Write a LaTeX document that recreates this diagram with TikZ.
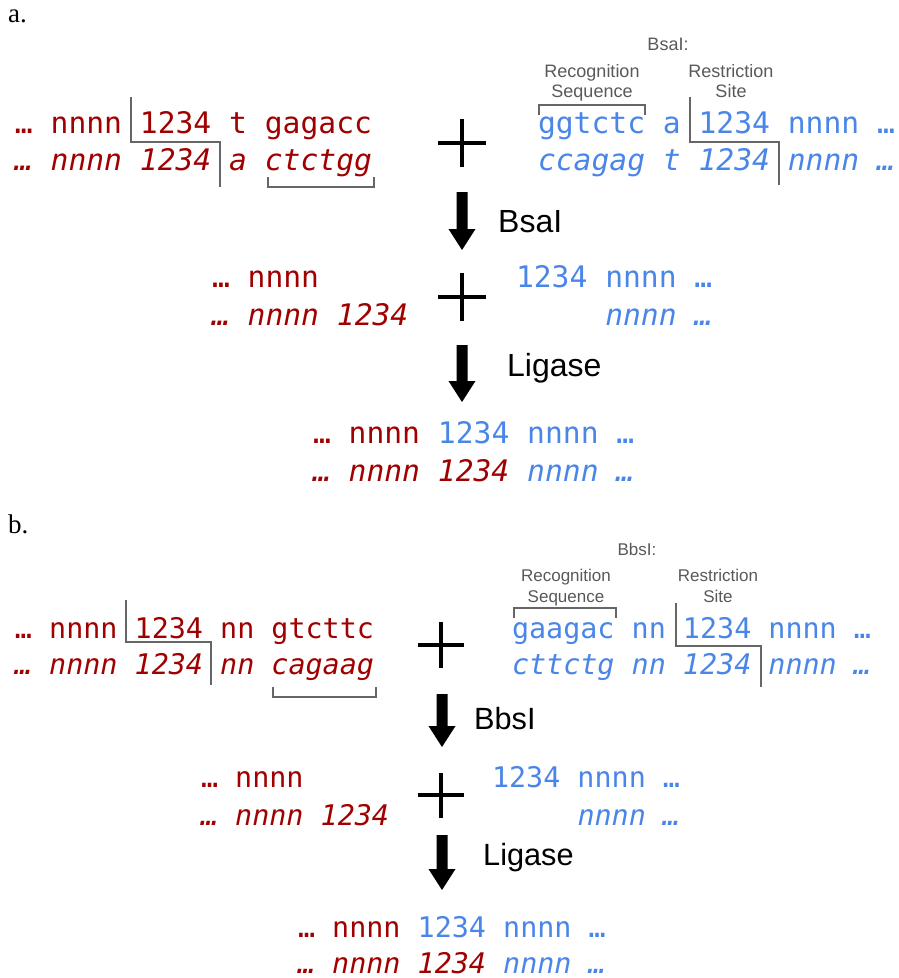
\documentclass[tikz,border=0pt]{standalone}
\usepackage{fontspec}
\setmainfont{Liberation Serif}
\setsansfont{Liberation Sans}
\setmonofont{DejaVu Sans Mono}[ItalicFont={DejaVu Sans Mono Oblique}]
\usetikzlibrary{calc}

\definecolor{dnared}{HTML}{A00000}
\definecolor{dnablue}{HTML}{4A86E8}
\definecolor{cutgray}{HTML}{666666}
\definecolor{notegray}{HTML}{595959}

% thick downward process arrow between two named coordinates
\newcommand\procarrow[2]{%
  \fill ($(#1)+(-5.5,0)$) -- ($(#2)+(-5.5,-21)$) -- ($(#2)+(-13.5,-21)$) -- (#2)
        -- ($(#2)+(13.5,-21)$) -- ($(#2)+(5.5,-21)$) -- ($(#1)+(5.5,0)$) -- cycle;}

\tikzset{
  seqa/.style={anchor=base west, inner sep=0pt, outer sep=0pt,
    font=\fontsize{29.65pt}{36pt}\ttfamily},
  seqai/.style={seqa, font=\fontsize{29.65pt}{36pt}\ttfamily\itshape},
  seqb/.style={anchor=base west, inner sep=0pt, outer sep=0pt,
    font=\fontsize{28.4pt}{34pt}\ttfamily},
  seqbi/.style={seqb, font=\fontsize{28.4pt}{34pt}\ttfamily\itshape},
  cutline/.style={draw=cutgray, line width=2.2pt, line join=miter},
  plussign/.style={draw=black, line width=4pt},
  enzyme/.style={anchor=base west, inner sep=0pt, font=\fontsize{32pt}{38pt}\sffamily},
  enzymeb/.style={anchor=base west, inner sep=0pt, font=\fontsize{30.7pt}{36pt}\sffamily},
  notea/.style={anchor=base, inner sep=0pt, text=notegray, font=\fontsize{18pt}{21pt}\sffamily},
  noteb/.style={anchor=base, inner sep=0pt, text=notegray, font=\fontsize{17pt}{20pt}\sffamily},
  partlabel/.style={anchor=base west, inner sep=0pt, font=\fontsize{27pt}{30pt}\rmfamily},
}

\begin{document}
\begin{tikzpicture}[x=1pt,y=-1pt]
\useasboundingbox (0,0) rectangle (898,978);
\fill[white] (0,0) rectangle (898,978);

%% ---------------- part a: BsaI ----------------
\node[partlabel] (la) at (8,22) {a.};

\node[notea] (bsanote) at (668,50) {BsaI:};
\node[notea] (reca1) at (592,77) {Recognition};
\node[notea] (reca2) at (592,97) {Sequence};
\node[notea] (resa1) at (731,77) {Restriction};
\node[notea] (resa2) at (731,97) {Site};

\node[seqa,  text=dnared]  (aR1) at (15,133)  {… nnnn 1234 t gagacc};
\node[seqai, text=dnared]  (aR2) at (15,170)  {… nnnn 1234 a ctctgg};
\node[seqa,  text=dnablue] (aB1) at (538,133) {ggtctc a 1234 nnnn …};
\node[seqai, text=dnablue] (aB2) at (538,170) {ccagag t 1234 nnnn …};

% cut steps and recognition brackets
\draw[cutline] (131,97) -- (131,142) -- (220,142) -- (220,187);
\draw[cutline] (268,177) -- (268,187) -- (374,187) -- (374,177);
\draw[cutline] (690,97) -- (690,142) -- (779,142) -- (779,185);
\draw[cutline] (539,115) -- (539,105) -- (645,105) -- (645,115);

\draw[plussign] (462,119) -- (462,167) (438,143) -- (486,143);

\coordinate (aA1s) at (462,192);
\coordinate (aA1e) at (462,250);
\procarrow{aA1s}{aA1e}
\node[enzyme] (bsa) at (498,232) {BsaI};

\node[seqa,  text=dnared]  (aM1) at (212,287) {… nnnn};
\node[seqai, text=dnared]  (aM2) at (212,325) {… nnnn 1234};
\node[seqa,  text=dnablue] (aM3) at (516,287) {1234 nnnn …};
\node[seqai, text=dnablue] (aM4) at (605.25,325) {nnnn …};
\draw[plussign] (462,273) -- (462,321) (438,297) -- (486,297);

\coordinate (aA2s) at (462,345);
\coordinate (aA2e) at (462,402);
\procarrow{aA2s}{aA2e}
\node[enzyme] (liga) at (507,376) {Ligase};

\node[seqa,  text=dnablue] (aF1) at (313,443) {{\color{dnared}… nnnn }1234 nnnn …};
\node[seqai, text=dnablue] (aF2) at (313,481) {{\color{dnared}… nnnn 1234 }nnnn …};

%% ---------------- part b: BbsI ----------------
\node[partlabel] (lb) at (8,533) {b.};

\node[noteb] (bbsnote) at (637,555) {BbsI:};
\node[noteb] (recb1) at (566,581) {Recognition};
\node[noteb] (recb2) at (566,602) {Sequence};
\node[noteb] (resb1) at (718,581) {Restriction};
\node[noteb] (resb2) at (718,602) {Site};

\node[seqb,  text=dnared]  (bR1) at (15,638)  {… nnnn 1234 nn gtcttc};
\node[seqbi, text=dnared]  (bR2) at (15,674)  {… nnnn 1234 nn cagaag};
\node[seqb,  text=dnablue] (bB1) at (512,638) {gaagac nn 1234 nnnn …};
\node[seqbi, text=dnablue] (bB2) at (512,674) {cttctg nn 1234 nnnn …};

\draw[cutline] (126,600) -- (126,642) -- (211,642) -- (211,685);
\draw[cutline] (273,687) -- (273,697) -- (376,697) -- (376,687);
\draw[cutline] (676,603) -- (676,646) -- (761,646) -- (761,687);
\draw[cutline] (514,618) -- (514,608) -- (616,608) -- (616,618);

\draw[plussign] (441,622) -- (441,668) (418,645) -- (464,645);

\coordinate (bA1s) at (442,694);
\coordinate (bA1e) at (442,747);
\procarrow{bA1s}{bA1e}
\node[enzymeb] (bbs) at (474,729) {BbsI};

\node[seqb,  text=dnared]  (bM1) at (201,787) {… nnnn};
\node[seqbi, text=dnared]  (bM2) at (201,825) {… nnnn 1234};
\node[seqb,  text=dnablue] (bM3) at (492,787) {1234 nnnn …};
\node[seqbi, text=dnablue] (bM4) at (577.5,825) {nnnn …};
\draw[plussign] (441,773) -- (441,818) (418,795) -- (464,795);

\coordinate (bA2s) at (442,835);
\coordinate (bA2e) at (442,890);
\procarrow{bA2s}{bA2e}
\node[enzymeb] (ligb) at (483,865) {Ligase};

\node[seqb,  text=dnablue] (bF1) at (298,937) {{\color{dnared}… nnnn }1234 nnnn …};
\node[seqbi, text=dnablue] (bF2) at (298,973) {{\color{dnared}… nnnn 1234 }nnnn …};
\end{tikzpicture}
\end{document}
